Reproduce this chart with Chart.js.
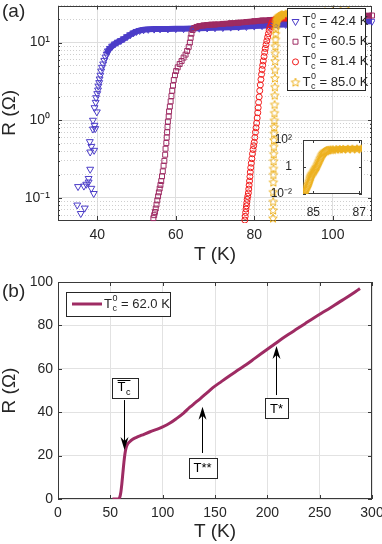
<!DOCTYPE html>
<html>
<head>
<meta charset="utf-8">
<script src="https://cdn.jsdelivr.net/npm/chart.js@4.4.1/dist/chart.umd.min.js"></script>
<style>
html, body { margin: 0; padding: 0; background: #fff; }
#wrap { position: relative; width: 382px; height: 544px; overflow: hidden; }
canvas { position: absolute; }
</style>
</head>
<body>
<div id="wrap">
<canvas id="chartA" width="382" height="270" style="left:0;top:0;width:382px;height:270px"></canvas>
<canvas id="inset" width="100" height="92" style="left:270px;top:132px;width:100px;height:92px"></canvas>
<canvas id="chartB" width="382" height="274" style="left:0;top:270px;width:382px;height:274px"></canvas>
</div>
<script>
const FONT = "'Liberation Sans', Arial, Helvetica, sans-serif";
const INK = '#262626';

// ---- panel (a): R(T) of four films, points are [T (K), R (ohm)] ----
const tc0Values = [42.4, 60.5, 81.4, 85.0];

const film42 = [
    [34.9, 0.081], [35.8, 0.063], [36.8, 0.074], [35.1, 0.14], [36.6, 0.142], [37.2, 0.15],
    [37.8, 0.16], [38.5, 0.133], [39.1, 0.114], [37.8, 0.178], [38.2, 0.234], [38.1, 0.53],
    [38.5, 0.46], [39.2, 0.41], [38.2, 0.39], [38.9, 0.77], [39.5, 0.78], [39.3, 0.86],
    [38.9, 1.0], [39.9, 1.28],
    [39.3, 1.45], [39.6, 1.7], [39.7, 1.95], [40.0, 2.2], [40.2, 2.45], [40.3, 2.75],
    [40.5, 3.05], [40.6, 3.4], [40.8, 3.8], [41.0, 4.3], [41.2, 4.8], [41.5, 5.3],
    [41.8, 5.9], [42.1, 6.5], [42.4, 7.1], [42.7, 7.8], [43.2, 8.4], [43.8, 9.0],
    [44.5, 9.6], [45.2, 10.1], [46.0, 10.6], [46.8, 11.2], [47.6, 11.9], [48.4, 12.6],
    [49.2, 13.3], [50.0, 13.9], [50.8, 14.3], [51.8, 14.6], [53, 14.8], [54.5, 14.9],
    [56, 15.0], [58, 15.0], [60, 15.1], [62, 15.1], [64, 15.2], [66, 15.3], [68, 15.4],
    [70, 15.5], [72, 15.6], [74, 15.8], [76, 15.9], [78, 16.1], [80, 16.3], [82, 16.5],
    [84, 16.7], [86, 16.9], [88, 17.1], [90, 17.3], [92, 17.5], [94, 17.6], [96, 17.8],
    [98, 17.9], [100, 18.0], [102, 18.2], [104, 18.4], [106, 18.5], [108, 18.7], [110, 18.8]
];

const film60 = [
    [54.3, 0.055], [54.5, 0.06], [54.7, 0.066], [54.9, 0.073], [55.1, 0.082], [55.3, 0.093],
    [55.5, 0.105], [55.7, 0.118], [55.9, 0.132], [56.1, 0.147], [56.3, 0.165], [56.5, 0.19],
    [56.7, 0.22], [56.9, 0.26], [57.1, 0.3], [57.3, 0.36], [57.4, 0.43], [57.6, 0.51],
    [57.7, 0.6], [57.8, 0.7], [57.9, 0.82], [58.0, 0.96], [58.2, 1.12], [58.3, 1.3],
    [58.5, 1.5], [58.7, 1.75], [58.9, 2.05], [59.1, 2.4], [59.3, 2.8], [59.5, 3.3],
    [59.8, 3.8], [60.1, 4.3], [60.5, 4.8], [61.0, 5.3], [61.5, 5.8], [62.0, 6.4],
    [62.5, 7.0], [62.9, 7.8], [63.3, 8.8], [63.6, 10.0], [63.8, 11.5], [64.0, 13.0],
    [64.3, 14.5], [64.7, 15.4], [65.3, 15.9], [66, 16.3], [67, 16.6], [68, 16.8],
    [69, 17.0], [70, 17.1], [72, 17.4], [74, 17.7], [76, 18.0], [78, 18.4], [80, 18.8],
    [82, 19.2], [84, 19.5], [86, 19.8], [88, 20.1], [90, 20.4], [92, 20.6], [94, 20.8],
    [96, 21.0], [98, 21.2], [100, 21.4], [102, 21.6], [104, 21.8], [106, 22.0], [108, 22.1],
    [110, 22.3]
];

const film81 = [
    [77.6, 0.052], [77.7, 0.058], [77.8, 0.065], [77.9, 0.072], [78.0, 0.079], [78.1, 0.087],
    [78.2, 0.096], [78.35, 0.105], [78.5, 0.116], [78.6, 0.13], [78.7, 0.146], [78.8, 0.165],
    [78.9, 0.188], [79.0, 0.215], [79.1, 0.245], [79.25, 0.28], [79.4, 0.32], [79.55, 0.37],
    [79.7, 0.42], [79.85, 0.47], [80.0, 0.52], [80.15, 0.6], [80.3, 0.7], [80.45, 0.8],
    [80.6, 0.92], [80.75, 1.07], [80.9, 1.25], [81.0, 1.45], [81.1, 1.7], [81.25, 2.0],
    [81.4, 2.4], [81.55, 2.85], [81.7, 3.35], [81.85, 3.9], [82.0, 4.5], [82.15, 5.1],
    [82.3, 5.8], [82.5, 6.6], [82.65, 7.5], [82.8, 8.4], [83.0, 9.4], [83.2, 10.5],
    [83.4, 11.7], [83.6, 13.0], [83.8, 14.4], [84.0, 15.8], [84.3, 17.2], [84.6, 18.4],
    [85.0, 19.4], [85.5, 20.0], [86.5, 20.5], [88, 20.8], [90, 21.0], [92, 21.1],
    [94, 21.2], [96, 21.3], [98, 21.4], [100, 21.5], [102, 21.6], [104, 21.7]
];

const film85 = [
    [84.55, 0.011], [84.58, 0.013], [84.62, 0.016], [84.65, 0.02], [84.68, 0.025], [84.71, 0.032],
    [84.74, 0.042], [84.77, 0.055], [84.8, 0.07], [84.82, 0.09], [84.84, 0.12], [84.86, 0.16],
    [84.88, 0.2], [84.9, 0.24], [84.93, 0.3], [84.96, 0.37], [85.0, 0.46], [85.03, 0.56],
    [85.06, 0.68], [85.09, 0.82], [85.12, 1.0], [85.15, 1.25], [85.18, 1.6], [85.21, 2.1],
    [85.24, 2.7], [85.27, 3.5], [85.3, 4.5], [85.33, 5.8], [85.36, 7.3], [85.39, 9.0],
    [85.42, 11], [85.46, 13], [85.5, 15], [85.55, 16.5], [85.6, 17.8], [85.66, 18.8],
    [85.75, 19.6], [85.85, 20.2], [86.0, 21.0], [86.15, 21.5], [86.3, 21.9], [86.5, 22.2],
    [86.7, 22.5], [86.9, 22.8], [87.1, 23.0], [88, 23.5], [90, 24], [92, 24.3],
    [94, 24.6], [96, 24.8], [98, 25.0], [100, 25.2], [102, 25.4], [104, 25.6]
];

const aXTicks = [40, 60, 80, 100];
const aDecades = [0.01, 0.1, 1, 10];
const insetXTicks = [85, 87];
const insetYTicks = [0.01, 1, 100];

// ---- panel (b): single film, [T (K), R (ohm)] ----
const bTc0 = 62.0;
const filmB = [
    [52, 0], [55, 0], [58, 0], [59, 0.8], [60, 3], [61, 7], [62, 12], [63, 17], [64, 21],
    [65, 23.5], [66.5, 25.3], [68.5, 26.4], [71, 27.4], [75, 28.4], [80, 29.4], [88, 31],
    [95, 32.2], [100, 33.2], [107, 35], [113, 37], [120, 39.6], [126, 42.3], [131, 44.3],
    [136, 46.3], [142, 48.8], [148, 51.3], [156, 54.1], [164, 56.8], [172, 59.4], [180, 62],
    [188, 64.8], [196, 67.6], [204, 70.4], [212, 73.2], [220, 75.8], [228, 78.3], [236, 80.8],
    [244, 83.3], [252, 85.7], [260, 88], [268, 90.5], [275, 92.6], [282, 94.8], [288.5, 97]
];
const bXTicks = [0, 50, 100, 150, 200, 250, 300];
const bYTicks = [0, 20, 40, 60, 80, 100];
// arrows: label, T, R at tail, R at head, R at label box
const bNotes = [
    { label: 'Tc', bar: true, t: 63.2, tail: 45.6, head: 22.6, box: 51.2 },
    { label: 'T**', t: 137.5, tail: 21.2, head: 42.5, box: 14.4 },
    { label: 'T*', t: 208, tail: 47.9, head: 70.5, box: 41.9 }
];

Chart.defaults.font.family = FONT;
Chart.defaults.color = INK;

const SUP = { '0': '\u2070', '1': '\u00b9', '2': '\u00b2', '3': '\u00b3', '-': '\u207b' };
function isDecade(v) {
    const l = Math.log10(v);
    return Math.abs(l - Math.round(l)) < 1e-6;
}
function powLabel(v) {
    const e = Math.round(Math.log10(v));
    return '10' + String(e).split('').map(c => SUP[c]).join('');
}

const aYTicks = [];
aDecades.forEach(d => {
    for (let k = 1; k <= 9; k++) {
        const v = +(k * d).toPrecision(3);
        if (v >= 0.052 && v <= 30) aYTicks.push(v);
    }
});

function starImage(color, r) {
    const c = document.createElement('canvas');
    const s = Math.ceil(r * 2 + 3);
    c.width = c.height = s;
    const g = c.getContext('2d');
    g.strokeStyle = color;
    g.lineWidth = 1;
    g.beginPath();
    for (let i = 0; i < 10; i++) {
        const rr = i % 2 ? r * 0.45 : r;
        const a = -Math.PI / 2 + i * Math.PI / 5;
        const px = s / 2 + rr * Math.cos(a), py = s / 2 + 0.5 + rr * Math.sin(a);
        if (i) g.lineTo(px, py); else g.moveTo(px, py);
    }
    g.closePath();
    g.stroke();
    return c;
}

const films = [
    { pts: film42, color: '#4b3cc8', style: 'triangle', rot: 180, radius: 4, band: 7, order: 4 },
    { pts: film60, color: '#9e2b63', style: 'rect', rot: 0, radius: 3.5, band: 15, order: 3 },
    { pts: film81, color: '#f21b1b', style: 'circle', rot: 0, radius: 3, band: 19, order: 2 },
    { pts: film85, color: '#edb120', style: starImage('#edb120', 4.5), rot: 0, radius: 4.5, band: 18, order: 1 }
];

function filmDataset(f) {
    return {
        data: f.pts.map(p => ({ x: p[0], y: p[1] })),
        showLine: true,
        borderColor: f.color,
        borderWidth: 6,
        pointStyle: f.style,
        pointRotation: f.rot,
        pointRadius: f.radius,
        pointBorderColor: f.color,
        pointBackgroundColor: 'rgba(0,0,0,0)',
        pointBorderWidth: 1,
        order: f.order,
        clip: 3,
        segment: {
            borderColor: s => (s.p0.parsed.y >= f.band && s.p1.parsed.y >= f.band) ? f.color : 'rgba(0,0,0,0)'
        }
    };
}

// T with sub/superscripts, like T_c^0
function tcText(ctx, x, y, size, opt) {
    ctx.textAlign = 'left';
    ctx.textBaseline = 'middle';
    ctx.font = size + 'px ' + FONT;
    ctx.fillText('T', x, y);
    const wT = ctx.measureText('T').width;
    const small = Math.round(size * 0.7);
    ctx.font = small + 'px ' + FONT;
    let w = 0;
    if (opt.sup) {
        ctx.fillText(opt.sup, x + wT + 0.5, y - size * 0.4);
        w = Math.max(w, ctx.measureText(opt.sup).width);
    }
    if (opt.sub) {
        ctx.fillText(opt.sub, x + wT + 0.5, y + size * 0.32);
        w = Math.max(w, ctx.measureText(opt.sub).width);
    }
    const total = wT + 0.5 + w;
    if (opt.bar) {
        ctx.save();
        ctx.strokeStyle = ctx.fillStyle;
        ctx.lineWidth = 1;
        ctx.beginPath();
        ctx.moveTo(x, Math.round(y - size * 0.62) + 0.5);
        ctx.lineTo(x + total, Math.round(y - size * 0.62) + 0.5);
        ctx.stroke();
        ctx.restore();
    }
    if (opt.rest) {
        ctx.font = size + 'px ' + FONT;
        ctx.fillText(opt.rest, x + total, y);
        return total + ctx.measureText(opt.rest).width;
    }
    return total;
}

// box around the axes with inward ticks, MATLAB style (drawn under the data)
const framePlugin = {
    id: 'frame',
    beforeDraw(chart, args, opts) {
        if (!opts.fill) return;
        const a = chart.chartArea;
        chart.ctx.save();
        chart.ctx.fillStyle = '#fff';
        chart.ctx.fillRect(a.left, a.top, a.right - a.left, a.bottom - a.top);
        chart.ctx.restore();
    },
    beforeDatasetsDraw(chart, args, opts) {
        const { ctx, chartArea: a, scales } = chart;
        const len = opts.len || 4;
        ctx.save();
        ctx.strokeStyle = '#3a3a3a';
        ctx.lineWidth = 1;
        ctx.beginPath();
        scales.x.ticks.forEach(t => {
            const x = Math.round(scales.x.getPixelForValue(t.value)) + 0.5;
            ctx.moveTo(x, a.bottom); ctx.lineTo(x, a.bottom - len);
            ctx.moveTo(x, a.top); ctx.lineTo(x, a.top + len);
        });
        scales.y.ticks.forEach(t => {
            const l = (scales.y.type === 'logarithmic' && !isDecade(t.value)) ? len / 2 : len;
            const y = Math.round(scales.y.getPixelForValue(t.value)) + 0.5;
            ctx.moveTo(a.left, y); ctx.lineTo(a.left + l, y);
            ctx.moveTo(a.right, y); ctx.lineTo(a.right - l, y);
        });
        ctx.stroke();
        ctx.strokeRect(Math.round(a.left) + 0.5, Math.round(a.top) + 0.5,
            Math.round(a.right - a.left) - 1, Math.round(a.bottom - a.top) - 1);
        ctx.restore();
    }
};

const legendA = {
    id: 'legendA',
    afterDraw(chart) {
        const ctx = chart.ctx;
        ctx.save();
        ctx.fillStyle = '#fff';
        ctx.strokeStyle = INK;
        ctx.lineWidth = 1;
        ctx.fillRect(287.5, 8.5, 78, 82);
        ctx.strokeRect(287.5, 8.5, 78, 82);
        films.forEach((f, i) => {
            const cy = 21.5 + i * 20.2;
            ctx.strokeStyle = f.color;
            ctx.fillStyle = 'rgba(0,0,0,0)';
            ctx.lineWidth = 1;
            Chart.helpers.drawPoint(ctx, { pointStyle: f.style, rotation: f.rot, radius: f.radius, borderWidth: 1 }, 295.5, cy);
            ctx.fillStyle = INK;
            tcText(ctx, 302.5, cy, 13, { sup: '0', sub: 'c', rest: ' = ' + tc0Values[i].toFixed(1) + ' K' });
        });
        ctx.font = '19px ' + FONT;
        ctx.fillStyle = INK;
        ctx.textAlign = 'left';
        ctx.textBaseline = 'middle';
        ctx.fillText('(a)', 2, 12);
        ctx.restore();
    }
};

const notesB = {
    id: 'notesB',
    afterDraw(chart) {
        const { ctx, scales: { x, y } } = chart;
        ctx.save();
        // legend
        ctx.fillStyle = '#fff';
        ctx.strokeStyle = INK;
        ctx.lineWidth = 1;
        ctx.fillRect(66.5, 22.5, 104, 24);
        ctx.strokeRect(66.5, 22.5, 104, 24);
        ctx.strokeStyle = '#9e2b63';
        ctx.lineWidth = 3;
        ctx.beginPath();
        ctx.moveTo(72, 34); ctx.lineTo(102, 34);
        ctx.stroke();
        ctx.fillStyle = INK;
        tcText(ctx, 104, 34, 13, { sup: '0', sub: 'c', rest: ' = ' + bTc0.toFixed(1) + ' K' });

        bNotes.forEach(n => {
            const px = Math.round(x.getPixelForValue(n.t)) + 0.5;
            const yTail = y.getPixelForValue(n.tail);
            const yHead = y.getPixelForValue(n.head);
            const dir = yHead > yTail ? 1 : -1;
            ctx.strokeStyle = '#000';
            ctx.fillStyle = '#000';
            ctx.lineWidth = 1;
            ctx.beginPath();
            ctx.moveTo(px, yTail);
            ctx.lineTo(px, yHead - dir * 8);
            ctx.stroke();
            ctx.beginPath();
            ctx.moveTo(px, yHead);
            ctx.lineTo(px - 4, yHead - dir * 13);
            ctx.lineTo(px, yHead - dir * 9);
            ctx.lineTo(px + 4, yHead - dir * 13);
            ctx.closePath();
            ctx.fill();

            // label box
            ctx.font = '13px ' + FONT;
            const w = n.bar ? 16 : ctx.measureText(n.label).width;
            const bw = Math.round(w + 10), bh = 20;
            const cy = y.getPixelForValue(n.box);
            const bx = Math.round(px - bw / 2) + 0.5, by = Math.round(cy - bh / 2) + 0.5;
            ctx.fillStyle = '#fff';
            ctx.strokeStyle = INK;
            ctx.fillRect(bx, by, bw, bh);
            ctx.strokeRect(bx, by, bw, bh);
            ctx.fillStyle = '#000';
            if (n.bar) {
                tcText(ctx, bx + 5, cy, 13, { sub: 'c', bar: true });
            } else {
                ctx.textAlign = 'center';
                ctx.textBaseline = 'middle';
                ctx.fillText(n.label, px, cy + 1);
            }
        });

        ctx.font = '19px ' + FONT;
        ctx.fillStyle = INK;
        ctx.textAlign = 'left';
        ctx.textBaseline = 'middle';
        ctx.fillText('(b)', 2, 22);
        ctx.restore();
    }
};

function fixedTicks(list) {
    return scale => { scale.ticks = list.map(v => ({ value: v })); };
}

// ---------- panel (a) ----------
new Chart(document.getElementById('chartA'), {
    type: 'scatter',
    data: { datasets: films.map(filmDataset) },
    options: {
        responsive: false,
        animation: false,
        devicePixelRatio: 1,
        layout: { padding: { left: 0, right: 10, top: 5, bottom: 0 } },
        plugins: { legend: { display: false }, tooltip: { enabled: false }, frame: { len: 4 } },
        scales: {
            x: {
                type: 'linear', min: 30, max: 110,
                afterBuildTicks: fixedTicks(aXTicks),
                afterFit: s => { s.height = 50; s.paddingLeft = 0; s.paddingRight = 0; },
                ticks: { font: { size: 14 }, color: INK, padding: 7, maxRotation: 0, autoSkip: false, callback: v => String(v) },
                grid: { color: '#dedede', drawTicks: false },
                border: { display: false },
                title: { display: true, text: 'T (K)', color: INK, font: { size: 19, lineHeight: 1 }, padding: { top: 0, bottom: 6 } }
            },
            y: {
                type: 'logarithmic', min: 0.052, max: 30,
                afterBuildTicks: fixedTicks(aYTicks),
                afterFit: s => { s.width = 58; s.paddingTop = 0; s.paddingBottom = 0; },
                ticks: { font: { size: 14 }, color: INK, padding: 8, autoSkip: false, callback: v => isDecade(v) ? powLabel(v) : '' },
                grid: { color: c => isDecade(c.tick.value) ? '#dedede' : '#cfcfcf', drawTicks: false },
                border: { display: false, dash: c => (c.tick && !isDecade(c.tick.value)) ? [1, 2] : [] },
                title: { display: true, text: 'R (\u03a9)', color: INK, font: { size: 19, lineHeight: 1 }, padding: { top: 0.5, bottom: 0 } }
            }
        }
    },
    plugins: [framePlugin, legendA]
});

// ---------- inset ----------
new Chart(document.getElementById('inset'), {
    type: 'scatter',
    data: { datasets: [Object.assign(filmDataset(films[3]), { clip: 0 })] },
    options: {
        responsive: false,
        animation: false,
        devicePixelRatio: 1,
        layout: { padding: { left: 0, right: 8, top: 8, bottom: 0 } },
        plugins: { legend: { display: false }, tooltip: { enabled: false }, frame: { len: 3, fill: true } },
        scales: {
            x: {
                type: 'linear', min: 84.55, max: 87.12,
                afterBuildTicks: fixedTicks(insetXTicks),
                afterFit: s => { s.height = 30; s.paddingLeft = 0; s.paddingRight = 0; },
                ticks: { font: { size: 12 }, color: INK, padding: 3, maxRotation: 0, autoSkip: false, callback: v => String(v) },
                grid: { display: false },
                border: { display: false }
            },
            y: {
                type: 'logarithmic', min: 0.01, max: 100,
                afterBuildTicks: fixedTicks(insetYTicks),
                afterFit: s => { s.width = 33; s.paddingTop = 0; s.paddingBottom = 0; },
                ticks: { font: { size: 12 }, color: INK, padding: 3, autoSkip: false, callback: v => v === 1 ? '1' : powLabel(v) },
                grid: { display: false },
                border: { display: false }
            }
        }
    },
    plugins: [framePlugin]
});

// ---------- panel (b) ----------
new Chart(document.getElementById('chartB'), {
    type: 'scatter',
    data: {
        datasets: [{
            data: filmB.map(p => ({ x: p[0], y: p[1] })),
            showLine: true,
            borderColor: '#9e2b63',
            borderWidth: 3,
            pointRadius: 0,
            cubicInterpolationMode: 'monotone'
        }]
    },
    options: {
        responsive: false,
        animation: false,
        devicePixelRatio: 1,
        layout: { padding: { left: 0, right: 10, top: 12, bottom: 0 } },
        plugins: { legend: { display: false }, tooltip: { enabled: false }, frame: { len: 4 } },
        scales: {
            x: {
                type: 'linear', min: 0, max: 300,
                afterBuildTicks: fixedTicks(bXTicks),
                afterFit: s => { s.height = 45; s.paddingLeft = 0; s.paddingRight = 0; },
                ticks: { font: { size: 14 }, color: INK, padding: 6, maxRotation: 0, autoSkip: false, callback: v => String(v) },
                grid: { color: '#e2e2e2', drawTicks: false },
                border: { display: false },
                title: { display: true, text: 'T (K)', color: INK, font: { size: 19, lineHeight: 1 }, padding: { top: 0, bottom: 2.5 } }
            },
            y: {
                type: 'linear', min: 0, max: 100,
                afterBuildTicks: fixedTicks(bYTicks),
                afterFit: s => { s.width = 58; s.paddingTop = 0; s.paddingBottom = 0; },
                ticks: { font: { size: 14 }, color: INK, padding: 5, autoSkip: false, callback: v => String(v) },
                grid: { color: '#e2e2e2', drawTicks: false },
                border: { display: false },
                title: { display: true, text: 'R (\u03a9)', color: INK, font: { size: 19, lineHeight: 1 }, padding: { top: 0.5, bottom: 0 } }
            }
        }
    },
    plugins: [framePlugin, notesB]
});
</script>
</body>
</html>
